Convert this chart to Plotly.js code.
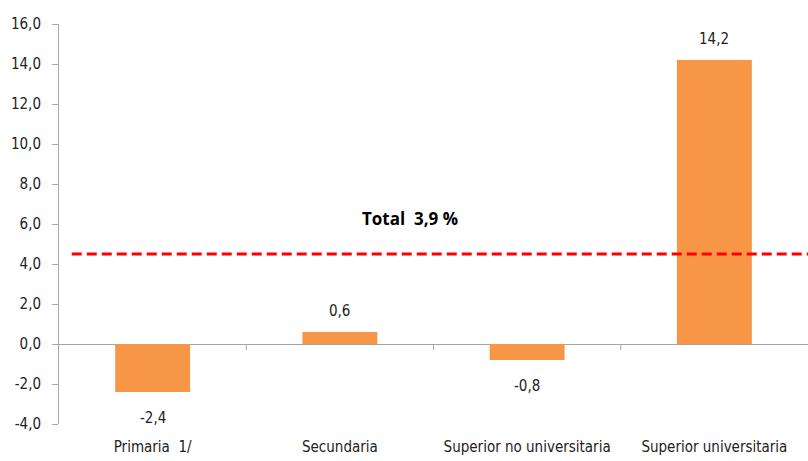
<!DOCTYPE html>
<html>
<head>
<meta charset="utf-8">
<script src="https://cdn.plot.ly/plotly-3.0.1.min.js"></script>
<style>html,body{margin:0;padding:0;background:#fff;}#chart{width:808px;height:461px;}</style>
</head>
<body>
<div id="chart"></div>
<script>
var categories = ["Primaria  1/", "Secundaria", "Superior no universitaria", "Superior universitaria"];
var values = [-2.4, 0.6, -0.8, 14.2];
var valueLabels = ["-2,4", "0,6", "-0,8", "14,2"];
var yTickVals = [-4, -2, 0, 2, 4, 6, 8, 10, 12, 14, 16];
var yTickText = ["-4,0", "-2,0", "0,0", "2,0", "4,0", "6,0", "8,0", "10,0", "12,0", "14,0", "16,0"];
var totalLine = 4.5;
var totalLabel = "Total  3,9 %";

var FONT = "'Liberation Sans Narrow', 'DejaVu Sans Condensed', 'Roboto', sans-serif";

var annotations = values.map(function (v, i) {
  return {
    x: categories[i], y: v, xref: 'x', yref: 'y',
    text: valueLabels[i], showarrow: false,
    yanchor: v >= 0 ? 'bottom' : 'top',
    yshift: v >= 0 ? 10 : -15,
    font: {family: FONT, size: 15, color: '#222'}
  };
});
annotations.push({
  xref: 'paper', yref: 'y', x: 0.469, y: 6.3,
  text: '<b>' + totalLabel + '</b>', showarrow: false,
  font: {family: "'Open Sans', 'Liberation Sans', sans-serif", size: 17, color: '#000'}
});

var shapes = [0.5, 1.5, 2.5].map(function (b) {
  return {type: 'line', xref: 'x', yref: 'y', x0: b, x1: b, y0: 0, y1: -0.3,
          line: {color: '#a6a6a6', width: 1}};
});
shapes.push({
  type: 'line', xref: 'paper', yref: 'y', x0: 0.017, x1: 1, y0: totalLine, y1: totalLine,
  line: {color: '#ff0000', width: 3, dash: '10px,5px'}
});

var trace = {
  type: 'bar', x: categories, y: values,
  marker: {color: '#F79646'}, width: 0.4,
  hoverinfo: 'none'
};

var layout = {
  width: 808, height: 461,
  margin: {l: 59, r: 0, t: 24, b: 37, pad: 0},
  paper_bgcolor: '#fff', plot_bgcolor: '#fff',
  showlegend: false,
  xaxis: {
    type: 'category', showline: false, showgrid: false, zeroline: false,
    ticks: '', ticklabelstandoff: 12,
    tickfont: {family: FONT, size: 15, color: '#222'},
    range: [-0.5, 3.5]
  },
  yaxis: {
    range: [-4, 16], tickvals: yTickVals, ticktext: yTickText,
    showgrid: false, showline: true, linecolor: '#a6a6a6', linewidth: 1,
    ticks: 'outside', ticklen: 6, tickcolor: '#a6a6a6', ticklabelstandoff: 8,
    zeroline: true, zerolinecolor: '#a6a6a6', zerolinewidth: 1,
    tickfont: {family: FONT, size: 15, color: '#222'}
  },
  annotations: annotations,
  shapes: shapes
};

Plotly.newPlot('chart', [trace], layout, {displayModeBar: false, staticPlot: true});
</script>
</body>
</html>
